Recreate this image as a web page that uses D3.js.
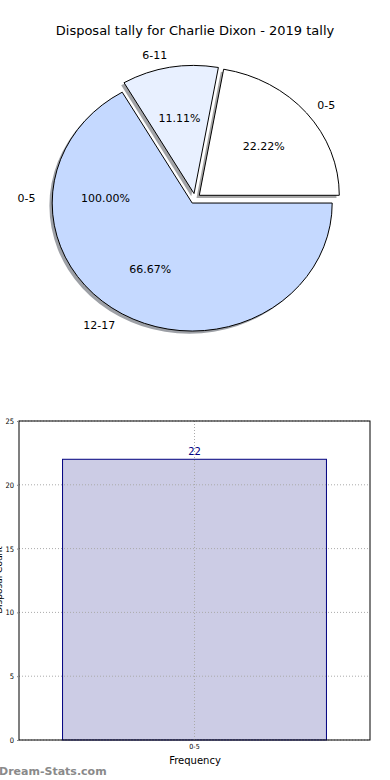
<!DOCTYPE html>
<html>
<head>
<meta charset="utf-8">
<script src="https://cdn.jsdelivr.net/npm/d3@7"></script>
<style>
  body { margin: 0; background: #fff; }
  svg { display: block; font-family: "DejaVu Sans", sans-serif; }
</style>
</head>
<body>
<svg id="chart" width="390" height="780"></svg>
<script>
// pie data
var pieCats = ["0-5", "6-11", "12-17"];
var pieValues = [2, 1, 6];
var pieColors = ["#ffffff", "#e8f0ff", "#c5d9ff"];
// stray single-slice label drawn on top of the pie
var extraCats = ["0-5"];
var extraValues = [22];

// bar data
var barCats = ["0-5"];
var barValues = [22];
var yTicks = [0, 5, 10, 15, 20, 25];

var svg = d3.select("#chart");

svg.append("text")
  .attr("x", 195).attr("y", 35)
  .attr("text-anchor", "middle")
  .style("font-size", "13px")
  .text("Disposal tally for Charlie Dixon - 2019 tally");

// ---- pie (elliptical, like a matplotlib pie without equal aspect)
var cx = 195, cy = 198.6, rx = 140, ry = 128, explode = 0.04;

var pie = d3.pie().sort(null)
  .startAngle(Math.PI / 2)
  .endAngle(Math.PI / 2 - 2 * Math.PI);

var unitArc = d3.arc().innerRadius(0).outerRadius(1);

var slices = pie(pieValues);
var total = d3.sum(pieValues);

function offset(d, k) {
  var m = (d.startAngle + d.endAngle) / 2;
  return [k * rx * Math.sin(m), -k * ry * Math.cos(m)];
}

var gPie = svg.append("g");

// shadows first, all below the wedges
slices.forEach(function(d, i) {
  var o = offset(d, explode);
  var c = d3.rgb(pieColors[i]);
  gPie.append("path")
    .attr("d", unitArc(d))
    .attr("transform", "translate(" + (cx + o[0] - 2.8) + "," + (cy + o[1] + 2.6) + ") scale(" + rx + "," + ry + ")")
    .attr("fill", d3.rgb(c.r * 0.3, c.g * 0.3, c.b * 0.3))
    .attr("fill-opacity", 0.5);
});

slices.forEach(function(d, i) {
  var o = offset(d, explode);
  gPie.append("path")
    .attr("d", unitArc(d))
    .attr("transform", "translate(" + (cx + o[0]) + "," + (cy + o[1]) + ") scale(" + rx + "," + ry + ")")
    .attr("fill", pieColors[i])
    .attr("stroke", "#000")
    .attr("stroke-width", 1)
    .attr("vector-effect", "non-scaling-stroke");
});

function pieLabels(data, cats, tot) {
  data.forEach(function(d, i) {
    var o = offset(d, explode);
    var lab = offset(d, 1.1);
    var pct = offset(d, 0.6);
    var m = (d.startAngle + d.endAngle) / 2;
    gPie.append("text")
      .attr("x", cx + o[0] + lab[0])
      .attr("y", cy + o[1] + lab[1])
      .attr("dy", "0.35em")
      .attr("text-anchor", Math.sin(m) < 0 ? "end" : "start")
      .style("font-size", "11px")
      .text(cats[i]);
    gPie.append("text")
      .attr("x", cx + o[0] + pct[0])
      .attr("y", cy + o[1] + pct[1])
      .attr("dy", "0.35em")
      .attr("text-anchor", "middle")
      .style("font-size", "11px")
      .text((d.value / tot * 100).toFixed(2) + "%");
  });
}

pieLabels(slices, pieCats, total);
pieLabels(pie(extraValues), extraCats, d3.sum(extraValues));

// ---- bar chart
var plotL = 19, plotR = 370, plotT = 421, plotB = 740;

var x = d3.scaleBand().domain(barCats).range([plotL, plotR])
  .paddingInner(0).paddingOuter(0.165);
var y = d3.scaleLinear().domain([0, 25]).range([plotB, plotT]);

var gBar = svg.append("g");

gBar.selectAll(".bar").data(barValues).enter().append("rect")
  .attr("x", function(d, i) { return x(barCats[i]); })
  .attr("y", function(d) { return y(d); })
  .attr("width", x.bandwidth())
  .attr("height", function(d) { return plotB - y(d); })
  .attr("fill", "#ccccE5")
  .attr("stroke", "#00007f")
  .attr("stroke-width", 1);

// dotted grid, drawn over the bar
gBar.selectAll(".hgrid").data(yTicks).enter().append("line")
  .attr("x1", plotL).attr("x2", plotR)
  .attr("y1", function(d) { return y(d); })
  .attr("y2", function(d) { return y(d); })
  .attr("stroke", "#aaa").attr("stroke-width", 1)
  .attr("stroke-dasharray", "1,2");

gBar.selectAll(".vgrid").data(barCats).enter().append("line")
  .attr("x1", function(d) { return x(d) + x.bandwidth() / 2; })
  .attr("x2", function(d) { return x(d) + x.bandwidth() / 2; })
  .attr("y1", plotT).attr("y2", plotB)
  .attr("stroke", "#aaa").attr("stroke-width", 1)
  .attr("stroke-dasharray", "1,2");

gBar.selectAll(".val").data(barValues).enter().append("text")
  .attr("x", function(d, i) { return x(barCats[i]) + x.bandwidth() / 2; })
  .attr("y", function(d) { return y(d) - 4; })
  .attr("text-anchor", "middle")
  .attr("fill", "#00007f")
  .style("font-size", "10px")
  .text(function(d) { return d; });

// frame
gBar.append("rect")
  .attr("x", plotL).attr("y", plotT)
  .attr("width", plotR - plotL).attr("height", plotB - plotT)
  .attr("fill", "none").attr("stroke", "#000").attr("stroke-width", 1);

var yAxis = d3.axisLeft(y).tickValues(yTicks).tickSize(2).tickPadding(3);
gBar.append("g")
  .attr("transform", "translate(" + plotL + ",0)")
  .call(yAxis)
  .call(function(g) { g.select(".domain").remove(); })
  .call(function(g) { g.selectAll("text").style("font-size", "7.5px").style("font-family", "DejaVu Sans Condensed, sans-serif"); })
  .call(function(g) { g.selectAll("line").attr("stroke", "#888"); });

var xAxis = d3.axisBottom(x).tickSize(0).tickPadding(4);
gBar.append("g")
  .attr("transform", "translate(0," + plotB + ")")
  .call(xAxis)
  .call(function(g) { g.select(".domain").remove(); })
  .call(function(g) { g.selectAll("text").style("font-size", "7px").style("font-family", "DejaVu Sans Condensed, sans-serif"); });

svg.append("text")
  .attr("x", 195).attr("y", 764)
  .attr("text-anchor", "middle")
  .style("font-size", "10px")
  .text("Frequency");

// y label sits mostly outside the picture, as in the source image
svg.append("text")
  .attr("transform", "translate(2,580) rotate(-90)")
  .attr("text-anchor", "middle")
  .style("font-size", "9px")
  .text("Disposal Count");

svg.append("text")
  .attr("x", -1).attr("y", 775)
  .attr("fill", "#8a8a8a")
  .style("font-size", "11px")
  .style("font-weight", "bold")
  .text("Dream-Stats.com");
</script>
</body>
</html>
